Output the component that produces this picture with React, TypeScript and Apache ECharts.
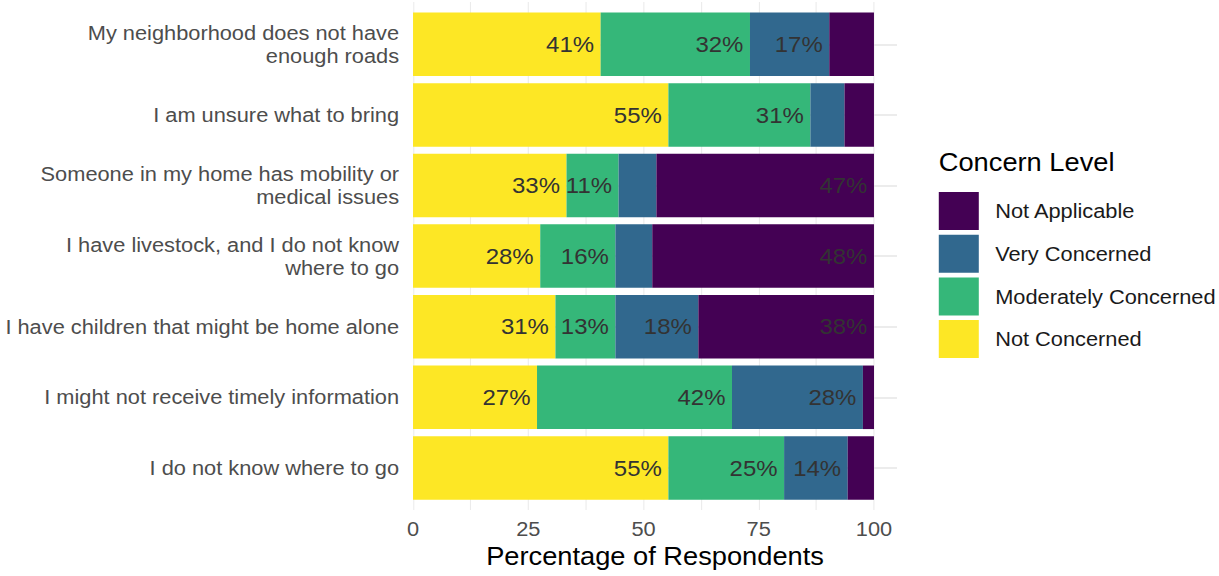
import React, { useEffect, useRef } from "react";
import * as echarts from "echarts";

const categories = [
  "My neighborhood does not have\nenough roads",
  "I am unsure what to bring",
  "Someone in my home has mobility or\nmedical issues",
  "I have livestock, and I do not know\nwhere to go",
  "I have children that might be home alone",
  "I might not receive timely information",
  "I do not know where to go",
];

const notConcerned = [40.7, 55.4, 33.3, 27.6, 30.9, 26.9, 55.4];
const moderatelyConcerned = [32.4, 30.8, 11.3, 16.3, 13.0, 42.3, 25.1];
const veryConcerned = [17.2, 7.4, 8.2, 8.0, 18.0, 28.4, 13.8];
const notApplicable = [9.7, 6.4, 47.2, 48.1, 38.1, 2.4, 5.7];

const levelNames = ["Not Concerned", "Moderately Concerned", "Very Concerned", "Not Applicable"];
const levelColors = ["#FDE725", "#35B779", "#31688E", "#440154"];
const levelValues = [notConcerned, moderatelyConcerned, veryConcerned, notApplicable];
const legendOrder = ["Not Applicable", "Very Concerned", "Moderately Concerned", "Not Concerned"];
const xTicks = [0, 25, 50, 75, 100];

const FONT = "'Liberation Sans', Arial, Helvetica, sans-serif";
const SX = 1219 / 1118;

export default function App() {
  const ref = useRef<HTMLDivElement>(null);

  useEffect(() => {
    if (!ref.current) return;
    const chart = echarts.init(ref.current, undefined, { renderer: "svg" });
    const gridLeft = 378.8;
    const gridWidth = 443.9;

    const series: any[] = levelNames.map((name, i) => ({
      name,
      type: "bar",
      stack: "total",
      xAxisIndex: 0,
      yAxisIndex: 0,
      barWidth: "90%",
      z: 2,
      itemStyle: { color: levelColors[i] },
      data: levelValues[i],
      label: {
        show: true,
        position: "insideRight",
        distance: 6,
        fontFamily: FONT,
        fontSize: 22,
        color: "#333333",
        formatter: (p: any) => (p.value >= 10 ? Math.round(p.value) + "%" : ""),
      },
      ...(i === 0
        ? {
            markLine: {
              silent: true,
              z: 1,
              symbol: ["none", "none"],
              label: { show: false },
              lineStyle: { color: "#e6e6e6", width: 1.5, type: "solid" },
              data: categories.map((c) => ({ yAxis: c })),
            },
          }
        : {}),
    }));

    chart.setOption({
      animation: false,
      textStyle: { fontFamily: FONT },
      title: {
        text: "Concern Level",
        left: 861,
        top: 150,
        padding: 0,
        textStyle: { fontFamily: FONT, fontSize: 25, fontWeight: "normal", color: "#000000" },
      },
      legend: {
        data: legendOrder,
        orient: "vertical",
        left: 861,
        top: 192,
        padding: 0,
        itemWidth: 36.7,
        itemHeight: 38,
        itemGap: 4.7,
        icon: "rect",
        selectedMode: false,
        textStyle: { fontFamily: FONT, fontSize: 20, color: "#1a1a1a", padding: [0, 0, 0, 10] },
      },
      grid: [
        { left: gridLeft, width: gridWidth, top: 9, height: 494.2 },
        { left: gridLeft, width: gridWidth, top: 2, height: 508 },
      ],
      xAxis: [
        { gridIndex: 0, type: "value", min: 0, max: 105, show: false },
        {
          gridIndex: 1,
          type: "value",
          min: 0,
          max: 105,
          interval: 12.5,
          axisLine: { show: false },
          axisTick: { show: false },
          splitLine: { show: true, showMaxLine: false, lineStyle: { color: "#ebebeb", width: 1 } },
          axisLabel: {
            show: true,
            margin: 9,
            fontFamily: FONT,
            fontSize: 20,
            color: "#4d4d4d",
            showMaxLabel: false,
            formatter: (v: number) => (xTicks.includes(v) ? String(v) : ""),
          },
          name: "Percentage of Respondents",
          nameLocation: "middle",
          nameGap: 34,
          nameTextStyle: { fontFamily: FONT, fontSize: 25, color: "#000000" },
        },
      ],
      yAxis: [
        {
          gridIndex: 0,
          type: "category",
          inverse: true,
          data: categories,
          axisLine: { show: false },
          axisTick: { show: false },
          splitLine: { show: false },
          axisLabel: {
            margin: 12.8,
            fontFamily: FONT,
            fontSize: 20,
            lineHeight: 23,
            color: "#4d4d4d",
            align: "right",
          },
        },
        { gridIndex: 1, type: "value", min: 0, max: 1, show: false },
      ],
      series,
    });
    return () => chart.dispose();
  }, []);

  return (
    <div
      ref={ref}
      style={{
        position: "fixed",
        left: 0,
        top: 0,
        width: 1118,
        height: 576,
        transform: `scaleX(${SX})`,
        transformOrigin: "0 0",
        background: "#ffffff",
      }}
    />
  );
}
